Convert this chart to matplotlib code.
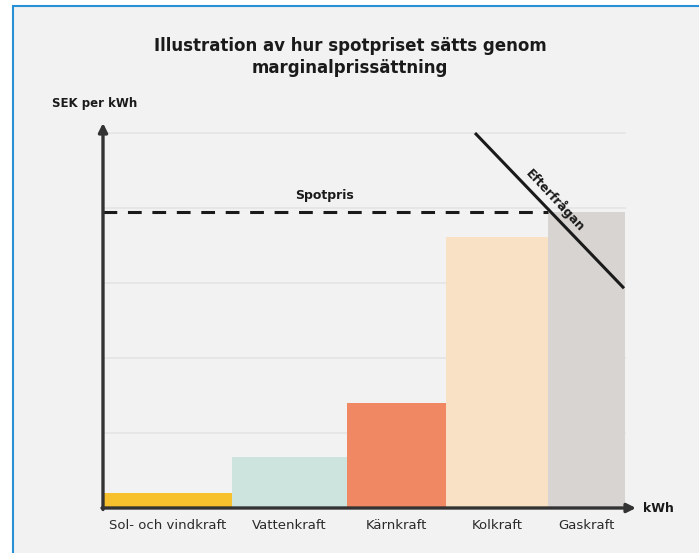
import matplotlib
matplotlib.use("Agg")
import matplotlib.pyplot as plt
from matplotlib.patches import Rectangle
import numpy as np

# ---- data ----
categories = ["Sol- och vindkraft", "Vattenkraft", "Kärnkraft", "Kolkraft", "Gaskraft"]
capacity = [1.29, 1.15, 0.99, 1.02, 0.77]          # bar widths (kWh, arbitrary units)
price = [0.2, 0.68, 1.4, 3.61, 3.95]               # bar heights (SEK per kWh, arbitrary units)
colors = ["#f6c12c", "#cde4de", "#f08864", "#f9e1c5", "#d8d4d1"]
spotpris = 3.95
demand_x = [3.72, 5.21]
demand_y = [5.0, 2.93]
grid_levels = [1, 2, 3, 4, 5]
title = "Illustration av hur spotpriset sätts genom\nmarginalprissättning"

W, H = 699, 553
fig = plt.figure(figsize=(W / 100, H / 100), dpi=100)
fig.patch.set_facecolor("white")

# framed panel (background axes)
bg = fig.add_axes([0, 0, 1, 1], zorder=-10)
bg.set_xlim(0, 1)
bg.set_ylim(0, 1)
bg.axis("off")
bg.add_patch(Rectangle((13 / W, -0.02), 1.0, 1 - 6 / H + 0.02,
                       facecolor="#f2f2f2", edgecolor="#2a90d6", lw=1.5, clip_on=False))

x0_px, x1_px = 103, 636
yb_px, yt_px = 508, 123
ax = fig.add_axes([x0_px / W, (H - yb_px) / H, (x1_px - x0_px) / W, (yb_px - yt_px) / H])
ax.set_facecolor("none")
xmax = (x1_px - x0_px) / 100
ymax = (yb_px - yt_px) / 75
ax.set_xlim(0, xmax)
ax.set_ylim(0, ymax)
for s in ax.spines.values():
    s.set_visible(False)
ax.set_xticks([])
ax.set_yticks([])

lefts = np.concatenate([[0], np.cumsum(capacity)[:-1]])
total = sum(capacity)

# grid lines
for g in grid_levels:
    ax.plot([0, total], [g, g], color="#e4e4e4", lw=1.2, zorder=1)

# bars
ax.bar(lefts, price, width=capacity, align="edge", color=colors, zorder=2, linewidth=0)

# spotpris line
ax.plot([0, lefts[-1]], [spotpris, spotpris], color="#1a1a1a", lw=2.2,
        dashes=(4.5, 3.5), zorder=3)
ax.text(2.22, spotpris + 0.21, "Spotpris", ha="center", va="center",
        fontsize=9, fontweight="bold", color="#1a1a1a", zorder=4)

# demand line
ax.plot(demand_x, demand_y, color="#1a1a1a", lw=2.2, zorder=4, solid_capstyle="butt")
ax.text(4.52, 4.1, "Efterfrågan", rotation=-47, ha="center", va="center",
        fontsize=8.8, fontweight="bold", color="#1a1a1a", zorder=5,
        rotation_mode="anchor")

# axes with arrows
ax.annotate("", xy=(xmax, 0), xytext=(-0.01, 0),
            arrowprops=dict(arrowstyle="-|>", color="#333333", lw=2.4,
                            mutation_scale=13, shrinkA=0, shrinkB=0),
            annotation_clip=False, zorder=6)
ax.annotate("", xy=(0, ymax), xytext=(0, -0.02),
            arrowprops=dict(arrowstyle="-|>", color="#333333", lw=2.4,
                            mutation_scale=13, shrinkA=0, shrinkB=0),
            annotation_clip=False, zorder=6)

# category labels
for l, w, c in zip(lefts, capacity, categories):
    ax.text(l + w / 2, -0.23, c, ha="center", va="center", fontsize=9.5,
            color="#2a2a2a", clip_on=False)

# axis labels
fig.text(643 / W, 1 - 509 / H, "kWh", ha="left", va="center", fontsize=9,
         fontweight="bold", color="#1a1a1a")
fig.text(52 / W, 1 - 104 / H, "SEK per kWh", ha="left", va="center", fontsize=8.5,
         fontweight="bold", color="#1a1a1a")

# title
fig.text(350 / W, 1 - 57 / H, title, ha="center", va="center", fontsize=12,
         fontweight="bold", color="#1a1a1a", linespacing=1.25)

fig.savefig("out.png", dpi=100, facecolor=fig.get_facecolor())
